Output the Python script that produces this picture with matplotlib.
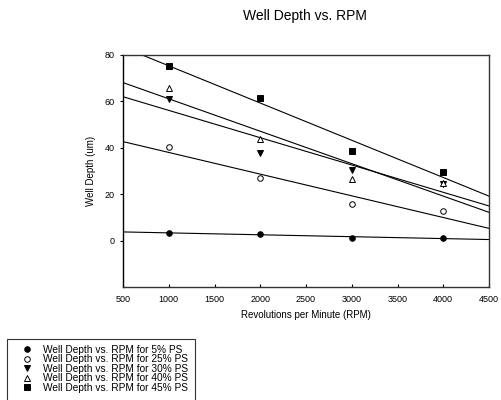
import numpy as np
import matplotlib.pyplot as plt
import matplotlib
from matplotlib.patches import Rectangle

matplotlib.rcParams['font.family'] = ['Liberation Sans', 'DejaVu Sans']

# data
rpm = [1000, 2000, 3000, 4000]
depth_5 = [3.2, 2.9, 1.3, 1.0]
depth_25 = [40.4, 26.8, 15.8, 12.9]
depth_30 = [61.2, 37.8, 30.5, 24.4]
depth_40 = [65.7, 43.6, 26.5, 24.8]
depth_45 = [75.4, 61.5, 38.7, 29.5]
labels = ['Well Depth vs. RPM for 5% PS', 'Well Depth vs. RPM for 25% PS',
          'Well Depth vs. RPM for 30% PS', 'Well Depth vs. RPM for 40% PS',
          'Well Depth vs. RPM for 45% PS']

series = [depth_5, depth_25, depth_30, depth_40, depth_45]
styles = [dict(marker='o', mfc='black'),
          dict(marker='o', mfc='white'),
          dict(marker='v', mfc='black'),
          dict(marker='^', mfc='white'),
          dict(marker='s', mfc='black')]

fig = plt.figure(figsize=(5.01, 4.0), dpi=100)
ax = fig.add_axes([123 / 501, 1 - 287 / 400, 366 / 501, 232 / 400])

xfit = np.array([500, 4500])
handles = []
for y, st in zip(series, styles):
    h, = ax.plot(rpm, y, linestyle='none', color='black', mec='black',
                 markersize=4, mew=0.7, **st)
    handles.append(h)
    # regression line over the full x range
    k, b = np.polyfit(rpm, y, 1)
    ax.plot(xfit, k * xfit + b, color='black', lw=0.8)

ax.set_xlim(500, 4500)
ax.set_ylim(-20, 80)
ax.set_xticks(np.arange(500, 4501, 500))
ax.set_yticks([0, 20, 40, 60, 80])
ax.tick_params(axis='x', direction='in', length=2.5, labelsize=6.5, pad=6)
ax.tick_params(axis='y', direction='out', length=2.5, labelsize=6.5)
for sp in ax.spines.values():
    sp.set_linewidth(1.0)
    sp.set_color('#333333')
ax.spines['left'].set_color('black')

ax.set_xlabel('Revolutions per Minute (RPM)', fontsize=7, labelpad=4)
ax.set_ylabel('Well Depth (um)', fontsize=7, labelpad=6)
fig.text(305 / 501, 1 - 16 / 400, 'Well Depth vs. RPM', ha='center', va='center', fontsize=10)

fig.legend(handles, labels, loc='upper left', bbox_to_anchor=(22 / 501, 1 - 345 / 400),
           frameon=False, fontsize=7.3, labelspacing=-0.05, handlelength=1.0,
           handletextpad=1.08, borderpad=0, borderaxespad=0)
# legend frame runs off the bottom edge
fig.patches.append(Rectangle((7 / 501, -0.01), 188 / 501, 61 / 400 + 0.01,
                             transform=fig.transFigure, fill=False,
                             edgecolor='#333333', lw=0.8))

fig.savefig('out.png', dpi=100)
